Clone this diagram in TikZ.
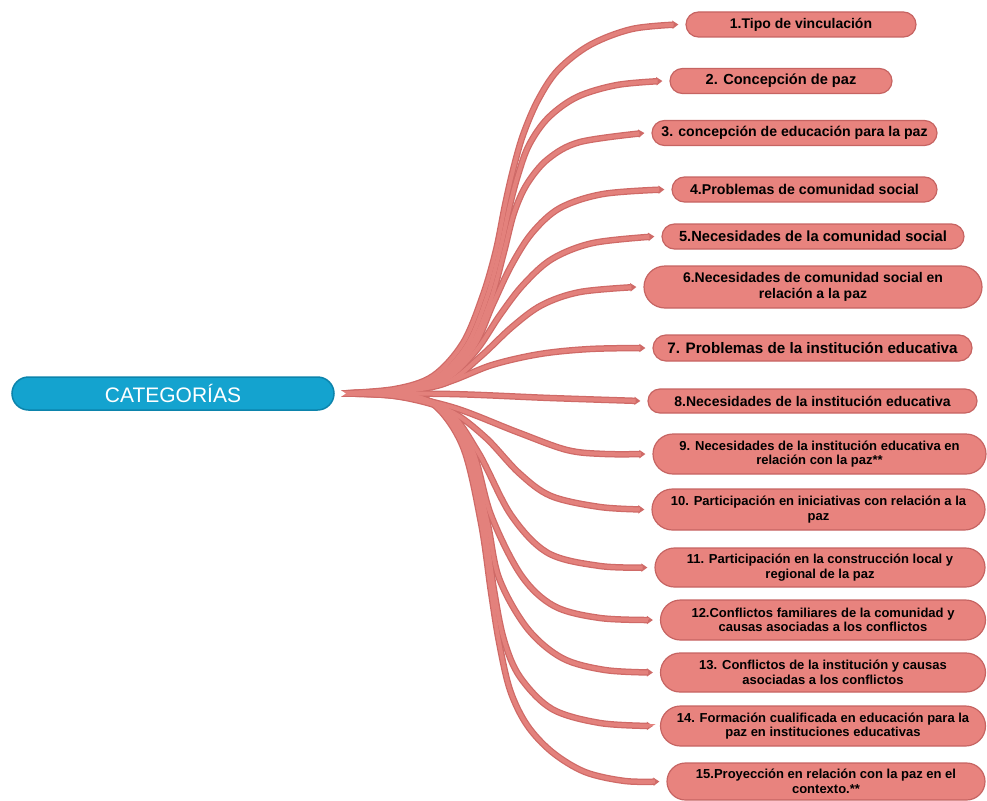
\documentclass[tikz,border=0pt]{standalone}
\usepackage{fontspec}
\setmainfont{Liberation Sans}
\usetikzlibrary{calc,arrows.meta,shapes.misc}
\definecolor{catblue}{HTML}{14A3CF}
\definecolor{catblueedge}{HTML}{0C84AC}
\definecolor{leaffill}{HTML}{E8837E}
\definecolor{leafedge}{HTML}{C66462}
\definecolor{branchdark}{HTML}{CF6A67}
\definecolor{branchlight}{HTML}{E3817C}
\newcommand\twig[2]{\draw[#1] plot[smooth,tension=0.55] coordinates {#2};}
\newcommand\allbranches[1]{%
  \twig{#1}{(hub) (395,389) (433,376) (463,343) (483,295) (496,250) (505,205) (513,170) (523,135) (538,100) (558,70) (590,45) (632,29) (e1)}
  \twig{#1}{(hub) (395,390) (436,378) (467,345) (487,297) (500,250) (510,205) (518,175) (529,145) (548,118) (577,97) (617,85) (e2)}
  \twig{#1}{(hub) (395,390) (438,379) (470,347) (491,299) (504,252) (514,213) (527,184) (548,159) (580,142) (e3)}
  \twig{#1}{(hub) (395,391) (440,380) (473,348) (493,304) (511,266) (532,233) (560,208) (603,194) (e4)}
  \twig{#1}{(hub) (395,391) (443,381) (475,352) (500,315) (523,285) (552,259) (593,243) (e5)}
  \twig{#1}{(hub) (395,392) (446,383) (480,357) (512,327) (542,305) (580,292) (e6)}
  \twig{#1}{(hub) (395,392) (445,383) (492,365) (540,354) (590,349) (e7)}
  \twig{#1}{(hub) (450,394) (550,398) (e8)}
  \twig{#1}{(hub) (400,396) (455,408) (517,432) (567,450) (605,454) (e9)}
  \twig{#1}{(hub) (395,396) (448,410) (485,437) (519,473) (551,496) (600,507) (e10)}
  \twig{#1}{(hub) (395,396) (445,408) (478,452) (511,515) (548,553) (600,566) (e11)}
  \twig{#1}{(hub) (395,395) (442,407) (472,449) (491,515) (521,575) (554,606) (600,618) (e12)}
  \twig{#1}{(hub) (395,395) (439,406) (469,448) (487,520) (499,578) (527,628) (562,658) (605,670) (e13)}
  \twig{#1}{(hub) (395,394) (436,405) (466,447) (484,522) (494,590) (504,640) (520,677) (552,709) (600,723) (e14)}
  \twig{#1}{(hub) (395,394) (433,404) (463,447) (481,523) (491,592) (499,642) (510,690) (527,725) (552,752) (585,772) (625,781) (e15)}
}
\begin{document}
\begin{tikzpicture}[x=1pt,y=-1pt,
  leaf/.style={rounded rectangle, draw=leafedge, fill=leaffill, line width=1.2pt, inner sep=0pt,
    align=center, text=black, minimum height=25pt},
  two/.style={leaf, minimum height=40pt},
  fA/.style={font=\bfseries\fontsize{#1}{15.5}\selectfont},
  fB/.style={font=\bfseries\fontsize{13}{14.5}\selectfont},
  branchout/.style={draw=branchdark, line width=6.5pt, -{Triangle[length=6pt,width=8pt]}},
  branchin/.style={draw=branchlight, line width=4pt, shorten >=5pt}]
\useasboundingbox (0,0) rectangle (987,800);

\node[rounded rectangle, draw=catblueedge, fill=catblue, line width=1.5pt, minimum width=322pt,
  minimum height=33pt, inner sep=0pt, text=white,
  font=\fontsize{21}{24}\selectfont] (root) at (173,393.5) {CATEGORÍAS};

\node[leaf, fA=14,   minimum width=230pt] (n1) at (801,24.5) {1.Tipo de vinculación};
\node[leaf, fA=14.6, minimum width=222pt] (n2) at (781,81) {2. Concepción de paz};
\node[leaf, fA=14.1, minimum width=285pt] (n3) at (794.5,133) {3. concepción de educación para la paz};
\node[leaf, fA=14.2, minimum width=265pt] (n4) at (804.5,189.5) {4.Problemas de comunidad social};
\node[leaf, fA=14.7, minimum width=302pt] (n5) at (813,236.5) {5.Necesidades de la comunidad social};
\node[two, fA=14,   minimum width=338pt, minimum height=42pt] (n6) at (813,287) {6.Necesidades de comunidad social en\\relación a la paz};
\node[leaf, fA=15.2, minimum width=319pt, minimum height=26pt] (n7) at (812.5,348) {7. Problemas de la institución educativa};
\node[leaf, fA=14,   minimum width=329pt, minimum height=24pt] (n8) at (812.5,401) {8.Necesidades de la institución educativa};
\node[two, fB, minimum width=333pt] (n9) at (819.5,454) {9. Necesidades de la institución educativa en\\relación con la paz**};
\node[two, fB, minimum width=333pt, minimum height=41pt] (n10) at (818.5,509.5) {10. Participación en iniciativas con relación a la\\paz};
\node[two, fB, minimum width=330pt, minimum height=39pt] (n11) at (820,567.5) {11. Participación en la construcción local y\\regional de la paz};
\node[two, fB, minimum width=325pt] (n12) at (823,620) {12.Conflictos familiares de la comunidad y\\causas asociadas a los conflictos};
\node[two, fB, minimum width=325pt, minimum height=39pt] (n13) at (823,672.5) {13. Conflictos de la institución y causas\\asociadas a los conflictos};
\node[two, fB, minimum width=325pt] (n14) at (823,726) {14. Formación cualificada en educación para la\\paz en instituciones educativas};
\node[two, fB, minimum width=318pt, minimum height=37pt] (n15) at (826,781.5) {15.Proyección en relación con la paz en el\\contexto.**};

\coordinate (hub) at ($(root.east)+(6,0)$);
\foreach \i in {1,...,15}{
  \coordinate (e\i) at ($(n\i.west)+(-7,0)$);
}
\allbranches{branchout}
\allbranches{branchin}
\fill[white] ($(hub)+(-1,-4)$) -- ($(hub)+(5,0)$) -- ($(hub)+(-1,4)$) -- cycle;
\end{tikzpicture}
\end{document}
